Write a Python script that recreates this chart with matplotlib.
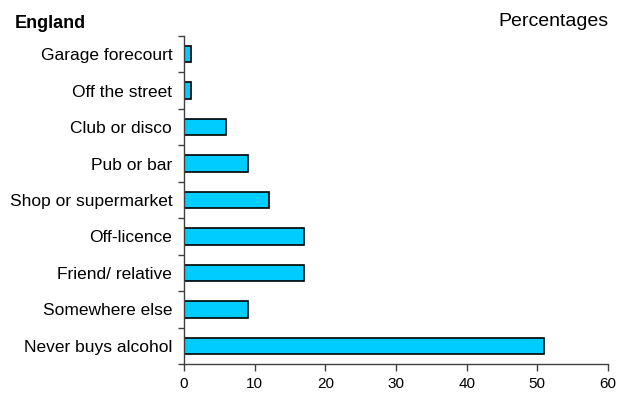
import matplotlib
matplotlib.use("Agg")
import matplotlib.pyplot as plt
import numpy as np

categories = ["Never buys alcohol", "Somewhere else", "Friend/ relative", "Off-licence",
              "Shop or supermarket", "Pub or bar", "Club or disco", "Off the street",
              "Garage forecourt"]
values = [51, 9, 17, 17, 12, 9, 6, 1, 1]
xticks = [0, 10, 20, 30, 40, 50, 60]

plt.rcParams['font.family'] = ['Liberation Sans', 'DejaVu Sans']
W, H = 619, 394
fig = plt.figure(figsize=(W/100, H/100), dpi=100)
ax = fig.add_axes([184/W, 1-364/H, (608-184)/W, (364-36)/H])

y = np.arange(len(categories))
ax.barh(y, values, height=0.45, color='#00CCFF', edgecolor='black', linewidth=1.2)
ax.set_xlim(0, 60)
ax.set_ylim(-0.5, len(categories)-0.5)
ax.set_xticks(xticks)
ax.set_xticklabels([str(t) for t in xticks], fontsize=11)
ax.set_yticks(y)
ax.set_yticklabels(categories, fontsize=12.5)
ax.set_yticks(np.arange(-0.5, len(categories)), minor=True)
ax.tick_params(axis='y', which='major', length=0, pad=8.5)
ax.tick_params(axis='y', which='minor', length=4, width=1, color='#404040')
ax.tick_params(axis='x', which='major', length=5, width=1, color='#404040', pad=4)
for s in ['top', 'right']:
    ax.spines[s].set_visible(False)
for s in ['left', 'bottom']:
    ax.spines[s].set_color('#404040')
    ax.spines[s].set_linewidth(1)

fig.text(15/W, 1-23/H, "England", fontsize=13, fontweight='bold', ha='left', va='center')
fig.text(609/W, 1-22/H, "Percentages", fontsize=14, ha='right', va='center')

fig.savefig("out.png", dpi=100)
